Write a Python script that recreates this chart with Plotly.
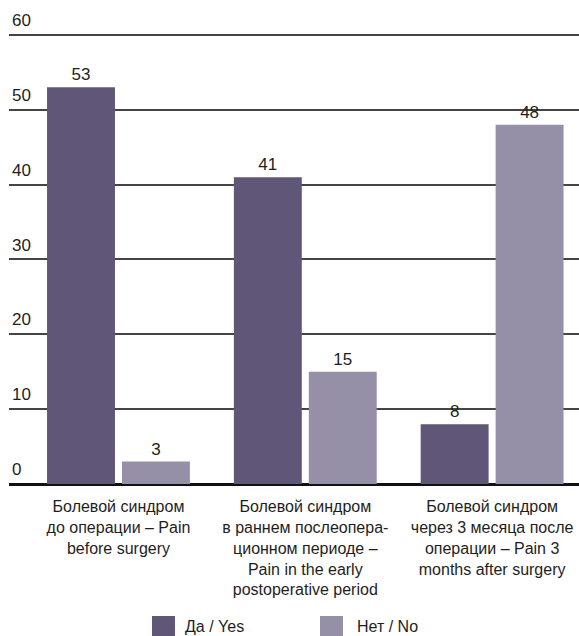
import plotly.graph_objects as go

categories = [
    "Болевой синдром<br>до операции – Pain<br>before surgery",
    "Болевой синдром<br>в раннем послеопера-<br>ционном периоде –<br>Pain in the early<br>postoperative period",
    "Болевой синдром<br>через 3 месяца после<br>операции – Pain 3<br>months after surgery",
]
series_names = ["Да / Yes", "Нет / No"]
yes_values = [53, 41, 8]
no_values = [3, 15, 48]
y_ticks = [0, 10, 20, 30, 40, 50, 60]

colors = ["#5f5678", "#958fa8"]
FONT = "Liberation Sans, Arial, sans-serif"
TXT = "#1e1e1e"

x_idx = list(range(len(categories)))
bar_w = 0.3636
offsets = [-0.3824, 0.0187]

fig = go.Figure()
for name, vals, col, off in zip(series_names, [yes_values, no_values], colors, offsets):
    fig.add_trace(go.Bar(
        x=x_idx, y=vals, name=name, width=bar_w, offset=off,
        marker=dict(color=col, line=dict(width=0)),
        text=[str(v) for v in vals], textposition="outside",
        textfont=dict(family=FONT, size=17, color=TXT),
        cliponaxis=False, showlegend=False,
    ))

# legend drawn as swatches + labels (paper coords: plot area 9..579 px wide, y 0 at 484 px)
TOP = 5.07
PH = 484 - TOP
def py(pix):
    return (484 - pix) / PH

sw_x = [(0.2509, 0.2912), (0.5456, 0.5860)]
tx_x = [0.3053, 0.607]
for (x0, x1), tx, col, name in zip(sw_x, tx_x, colors, series_names):
    fig.add_shape(type="rect", xref="paper", yref="paper", x0=x0, x1=x1,
                  y0=py(616), y1=py(636), fillcolor=col, line=dict(width=0))
    fig.add_annotation(xref="paper", yref="paper", x=tx, y=py(626), text=name,
                       showarrow=False, xanchor="left", yanchor="middle",
                       font=dict(family=FONT, size=16, color=TXT))

fig.update_layout(
    width=579, height=636,
    margin=dict(l=9, r=0, t=TOP, b=152),
    paper_bgcolor="white", plot_bgcolor="white",
    barmode="overlay",
    font=dict(family=FONT, size=16, color=TXT),
    xaxis=dict(
        tickmode="array", tickvals=x_idx, ticktext=categories,
        range=[-0.586, 2.465], showgrid=False, showline=False, zeroline=False,
        ticks="outside", ticklen=8, tickcolor="rgba(0,0,0,0)",
        ticklabeloverflow="allow",
        tickfont=dict(family=FONT, size=16, color=TXT),
    ),
    yaxis=dict(
        range=[0, 64], tickmode="array", tickvals=y_ticks,
        ticklabelposition="inside top", ticklabelshift=-3,
        showgrid=True, gridcolor="#444444", gridwidth=1.5,
        zeroline=True, zerolinecolor="#111111", zerolinewidth=3,
        showline=False, ticks="",
        tickfont=dict(family=FONT, size=17, color=TXT),
    ),
)

fig.write_html("out.html")
